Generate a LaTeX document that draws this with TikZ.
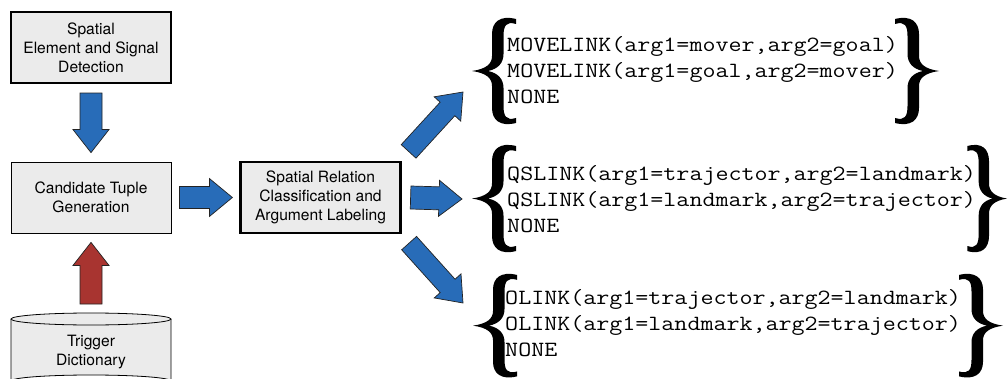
\documentclass[tikz,border=0pt]{standalone}
\usepackage{fontspec}
\setmainfont{TeX Gyre Heros}
\usetikzlibrary{calc}
\definecolor{boxfill}{RGB}{235,235,235}
\definecolor{arrblue}{RGB}{40,108,184}
\definecolor{arrred}{RGB}{168,52,48}
\definecolor{arredge}{RGB}{35,35,35}
% #1 colour, #2 tail, #3 tip, #4 half shaft, #5 half head, #6 head length
\newcommand{\blockarrow}[6]{%
  \coordinate (ba-h) at ($(#3)!#6!(#2)$);
  \filldraw[fill=#1, draw=arredge, line width=0.7pt, line join=miter]
   ($(#2)!#4!90:(#3)$) -- ($(ba-h)!#4!90:(#3)$) -- ($(ba-h)!#5!90:(#3)$) -- (#3)
   -- ($(ba-h)!#5!-90:(#3)$) -- ($(ba-h)!#4!-90:(#3)$) -- ($(#2)!#4!-90:(#3)$) -- cycle;}
\newcommand{\bracepath}{(44,2) .. controls (28,-2) and (20,5) .. (20,17) -- (20,39)
  .. controls (20,47) and (14,52) .. (0,54) .. controls (14,56) and (20,61) .. (20,69)
  -- (20,91) .. controls (20,103) and (28,110) .. (44,106) -- (44,101)
  .. controls (34,104) and (31.5,99) .. (31.5,89) -- (31.5,71)
  .. controls (31.5,62) and (26,56) .. (16,54) .. controls (26,52) and (31.5,46) .. (31.5,37)
  -- (31.5,19) .. controls (31.5,9) and (34,4) .. (44,7) -- cycle}
\begin{document}
\begin{tikzpicture}[x=1pt,y=-1pt,
  box/.style={draw=black, fill=boxfill, minimum width=160pt, minimum height=71pt,
    align=center, inner sep=0pt, line width=0.8pt,
    font=\fontsize{15.6}{18.8}\selectfont},
  thickbox/.style={box, line width=2.2pt},
  mono/.style={anchor=west, inner sep=0pt, align=left, transform shape,
    font=\fontsize{21.7}{26}\selectfont\ttfamily},
  bracefill/.style={fill=black}]
\useasboundingbox (0,0) rectangle (1008,379);
\clip (0,0) rectangle (1008,379);

% boxes
\node[thickbox] (det) at (91,47.5) {Spatial\\Element and Signal\\Detection};
\node[box] (cand) at (91,197.5) {Candidate Tuple\\Generation};
\node[thickbox] (rel) at (320.5,197.5) {Spatial Relation\\Classification and\\Argument Labeling};

% cylinder
\draw[fill=boxfill, line width=0.8pt] (11,319) -- (11,381) arc[start angle=180, end angle=360, x radius=80, y radius=6] -- (171,319);
\draw[fill=boxfill, line width=0.8pt] (91,319) ellipse [x radius=80, y radius=6];
\coordinate (dicttop) at (91,313);
\node[font=\fontsize{15.6}{18.8}\selectfont, align=center, inner sep=0pt] (dict) at (91,352) {Trigger\\Dictionary};

% output texts
\begin{scope}[shift={(507,70)}, xscale=1.165]
  \node[mono] (mv) at (0,0) {MOVELINK(arg1=mover,arg2=goal)\\MOVELINK(arg1=goal,arg2=mover)\\NONE};
\end{scope}
\begin{scope}[shift={(507,199)}, xscale=1.165]
  \node[mono] (qs) at (0,0) {QSLINK(arg1=trajector,arg2=landmark)\\QSLINK(arg1=landmark,arg2=trajector)\\NONE};
\end{scope}
\begin{scope}[shift={(505,323)}, xscale=1.165]
  \node[mono] (ol) at (0,0) {OLINK(arg1=trajector,arg2=landmark)\\OLINK(arg1=landmark,arg2=trajector)\\NONE};
\end{scope}

% braces
\fill[bracefill, shift={(472,17)}] \bracepath;
\fill[bracefill, shift={(939,17)}, xscale=-1] \bracepath;
\fill[bracefill, shift={(472,144)}, yscale=1.01] \bracepath;
\fill[bracefill, shift={(1007,144)}, xscale=-0.9, yscale=1.01] \bracepath;
\fill[bracefill, shift={(473,273)}, yscale=0.975] \bracepath;
\fill[bracefill, shift={(1003,273)}, xscale=-1, yscale=0.975] \bracepath;

% arrows
\coordinate (a1t) at ($(det.south)+(0,9)$);
\coordinate (a1h) at ($(cand.north)+(0,-9)$);
\blockarrow{arrblue}{a1t}{a1h}{11pt}{18pt}{23pt}
\coordinate (a2t) at ($(dicttop)+(0,-9)$);
\coordinate (a2h) at ($(cand.south)+(0,9)$);
\blockarrow{arrred}{a2t}{a2h}{11pt}{18pt}{23pt}
\coordinate (a3t) at ($(cand.east)+(8,0)$);
\coordinate (a3h) at ($(rel.west)+(-7,0)$);
\blockarrow{arrblue}{a3t}{a3h}{11pt}{19pt}{23pt}
\coordinate (a4t) at ($(rel.east)+(9,0)$);
\coordinate (a4h) at ($(qs.west)+(-45,0)$);
\blockarrow{arrblue}{a4t}{a4h}{11.5pt}{18pt}{23pt}
\coordinate (a5t) at ($(rel.north east)+(7,-9.5)$);
\coordinate (a5h) at ($(mv.west)+(-44,22)$);
\blockarrow{arrblue}{a5t}{a5h}{10pt}{18pt}{23pt}
\coordinate (a6t) at ($(rel.south east)+(7.5,9)$);
\coordinate (a6h) at ($(ol.west)+(-42,-20)$);
\blockarrow{arrblue}{a6t}{a6h}{10pt}{18pt}{23pt}
\end{tikzpicture}
\end{document}
